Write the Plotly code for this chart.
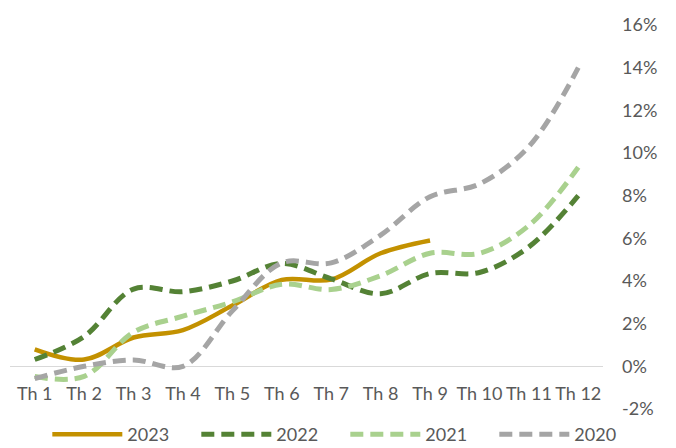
import plotly.graph_objects as go

months = ["Th 1", "Th 2", "Th 3", "Th 4", "Th 5", "Th 6",
          "Th 7", "Th 8", "Th 9", "Th 10", "Th 11", "Th 12"]

y2023 = [0.80, 0.32, 1.35, 1.70, 2.85, 4.05, 4.07, 5.30, 5.90]
y2022 = [0.32, 1.40, 3.62, 3.50, 4.00, 4.82, 4.10, 3.40, 4.35, 4.40, 5.60, 8.00]
y2021 = [-0.48, -0.47, 1.60, 2.35, 3.02, 3.85, 3.60, 4.25, 5.30, 5.30, 6.60, 9.33]
y2020 = [-0.57, 0.00, 0.30, 0.00, 2.60, 4.85, 4.85, 6.15, 7.95, 8.55, 10.30, 14.00]

yticks = list(range(-2, 17, 2))
yticktext = [f"{v}%" for v in yticks]

series = [
    ("2023", y2023, "#C39100", "solid", 4.5),
    ("2022", y2022, "#548235", "13px,7px", 5),
    ("2021", y2021, "#A9D18E", "13px,7px", 5),
    ("2020", y2020, "#A5A5A5", "13px,7px", 5),
]

font_family = "Lato"
text_color = "#595959"

fig = go.Figure()
for name, vals, color, dash, w in series:
    fig.add_trace(go.Scatter(
        x=months[:len(vals)], y=vals, name=name, mode="lines",
        line=dict(color=color, width=w, dash=dash, shape="spline", smoothing=1.0),
    ))

fig.update_layout(
    width=676, height=448,
    margin=dict(l=10, r=73, t=25, b=39, autoexpand=False),
    paper_bgcolor="white", plot_bgcolor="white",
    font=dict(family=font_family, size=18, color=text_color),
    showlegend=True,
    legend=dict(
        orientation="h", xref="container", yref="container",
        x=0.07, y=0.03, xanchor="left", yanchor="middle",
        itemwidth=70, entrywidth=64, entrywidthmode="pixels",
        font=dict(family=font_family, size=18, color=text_color),
        bgcolor="rgba(0,0,0,0)", tracegroupgap=0,
    ),
    xaxis=dict(
        type="category", categoryorder="array", categoryarray=months,
        range=[-0.5, 11.5], anchor="free", position=2 / 18,
        showline=False, showgrid=False, zeroline=False, ticks="",
        tickangle=0, tickmode="array", tickvals=months, ticktext=months,
        ticklabelstandoff=15,
        tickfont=dict(family=font_family, size=18, color=text_color),
    ),
    yaxis=dict(
        range=[-2, 16], side="right", tickmode="array", tickvals=yticks,
        ticktext=yticktext, showgrid=False, showline=False, ticks="",
        zeroline=True, zerolinecolor="#D9D9D9", zerolinewidth=1.3,
        ticklabelstandoff=18,
        tickfont=dict(family=font_family, size=18, color=text_color),
    ),
)

fig.write_html("out.html")
